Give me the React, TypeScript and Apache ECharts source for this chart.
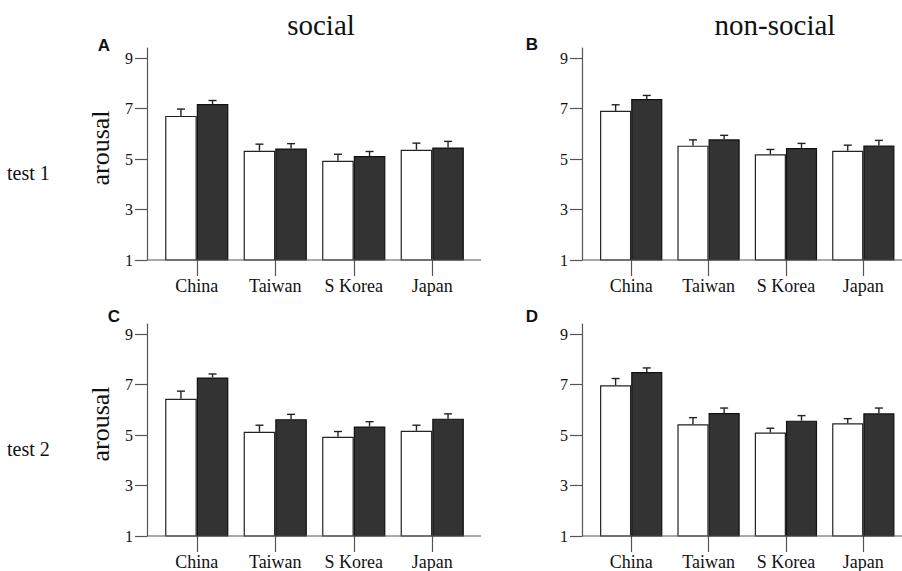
import { useEffect, useRef } from 'react';
import * as echarts from 'echarts';

const categories = ['China', 'Taiwan', 'S Korea', 'Japan'];
const yTickValues = [1, 3, 5, 7, 9];

// Panel A: social, test 1
const aWhite = [6.71, 5.33, 4.93, 5.37];
const aWhiteErr = [0.27, 0.26, 0.26, 0.26];
const aDark = [7.18, 5.42, 5.12, 5.46];
const aDarkErr = [0.14, 0.19, 0.18, 0.24];
// Panel B: non-social, test 1
const bWhite = [6.91, 5.53, 5.19, 5.33];
const bWhiteErr = [0.24, 0.23, 0.19, 0.22];
const bDark = [7.38, 5.78, 5.44, 5.54];
const bDarkErr = [0.14, 0.16, 0.18, 0.2];
// Panel C: social, test 2
const cWhite = [6.44, 5.13, 4.93, 5.17];
const cWhiteErr = [0.3, 0.26, 0.21, 0.22];
const cDark = [7.28, 5.63, 5.34, 5.65];
const cDarkErr = [0.14, 0.19, 0.19, 0.19];
// Panel D: non-social, test 2
const dWhite = [6.97, 5.43, 5.1, 5.47];
const dWhiteErr = [0.27, 0.26, 0.17, 0.18];
const dDark = [7.5, 5.87, 5.57, 5.86];
const dDarkErr = [0.16, 0.2, 0.2, 0.21];

const GAP = 0.195;
const SERIF = '"Liberation Serif", "Times New Roman", serif';
const AXIS_COLOR = '#555';

export default function App() {
  const ref = useRef<HTMLDivElement>(null);
  useEffect(() => {
    const chart = echarts.init(ref.current!, null, { renderer: 'svg' });
    const panels = [
      { white: aWhite, whiteErr: aWhiteErr, dark: aDark, darkErr: aDarkErr, left: 157.5, top: 48, axisEnd: 481 },
      { white: bWhite, whiteErr: bWhiteErr, dark: bDark, darkErr: bDarkErr, left: 592.5, top: 48, axisEnd: 916 },
      { white: cWhite, whiteErr: cWhiteErr, dark: cDark, darkErr: cDarkErr, left: 157.5, top: 324, axisEnd: 481 },
      { white: dWhite, whiteErr: dWhiteErr, dark: dDark, darkErr: dDarkErr, left: 592.5, top: 324, axisEnd: 916 },
    ];
    const gridW = 314;
    const gridH = 212;
    const yOffset = 10.5;

    const grids: any[] = [];
    const xAxes: any[] = [];
    const yAxes: any[] = [];
    const series: any[] = [];
    const graphics: any[] = [];

    const errRender = (side: number) => (params: any, api: any) => {
      const idx = api.value(0);
      const m = api.value(1);
      const e = api.value(2);
      const base = api.coord([idx, m]);
      const top = api.coord([idx, m + e]);
      const band = api.size([1, 0])[0];
      const bw = (band * (1 - GAP)) / 2;
      const x = base[0] + (side * bw) / 2;
      const cap = 4;
      const style = { stroke: '#222', lineWidth: 1.4 };
      return {
        type: 'group',
        children: [
          { type: 'line', shape: { x1: x, y1: base[1], x2: x, y2: top[1] }, style },
          { type: 'line', shape: { x1: x - cap, y1: top[1], x2: x + cap, y2: top[1] }, style },
        ],
      };
    };

    panels.forEach((p, i) => {
      grids.push({ left: p.left, top: p.top, width: gridW, height: gridH, containLabel: false });
      xAxes.push({
        type: 'category',
        gridIndex: i,
        data: categories,
        boundaryGap: true,
        axisLine: { show: false },
        axisTick: { show: true, alignWithLabel: true, length: 16, lineStyle: { color: AXIS_COLOR, width: 1.2 } },
        axisLabel: { margin: 17, color: '#111', fontFamily: SERIF, fontSize: 18, interval: 0 },
        splitLine: { show: false },
      });
      yAxes.push({
        type: 'value',
        gridIndex: i,
        min: 1,
        max: 9.4,
        offset: yOffset,
        axisLine: { show: true, lineStyle: { color: AXIS_COLOR, width: 1.2 } },
        axisTick: { show: true, length: 12, customValues: yTickValues, lineStyle: { color: AXIS_COLOR, width: 1.2 } },
        axisLabel: { margin: 14, customValues: yTickValues, color: '#111', fontFamily: SERIF, fontSize: 16 },
        splitLine: { show: false },
      });
      series.push({
        type: 'bar',
        xAxisIndex: i,
        yAxisIndex: i,
        data: p.white.map((v) => v),
        barGap: '0%',
        barCategoryGap: GAP * 100 + '%',
        itemStyle: { color: '#ffffff', borderColor: '#222', borderWidth: 1.2 },
        silent: true,
      });
      series.push({
        type: 'bar',
        xAxisIndex: i,
        yAxisIndex: i,
        data: p.dark.map((v) => v),
        barGap: '0%',
        barCategoryGap: GAP * 100 + '%',
        itemStyle: { color: '#333333', borderColor: '#111', borderWidth: 1.2 },
        silent: true,
      });
      series.push({
        type: 'custom',
        xAxisIndex: i,
        yAxisIndex: i,
        data: p.white.map((v, k) => [k, v, p.whiteErr[k]]),
        renderItem: errRender(-1),
        z: 5,
        silent: true,
      });
      series.push({
        type: 'custom',
        xAxisIndex: i,
        yAxisIndex: i,
        data: p.dark.map((v, k) => [k, v, p.darkErr[k]]),
        renderItem: errRender(1),
        z: 5,
        silent: true,
      });
      const axisX = p.left - yOffset;
      const axisY = p.top + gridH;
      graphics.push({
        type: 'line',
        shape: { x1: axisX, y1: axisY, x2: p.axisEnd, y2: axisY },
        style: { stroke: AXIS_COLOR, lineWidth: 1.2 },
        z: 10,
      });
    });

    const textStyle = (font: string, extra: any = {}) => ({ fill: '#111', font, ...extra });

    graphics.push(
      { type: 'text', x: 321, y: 25, style: textStyle(`29px ${SERIF}`, { text: 'social', align: 'center', verticalAlign: 'middle' }) },
      { type: 'text', x: 775, y: 25, style: textStyle(`29px ${SERIF}`, { text: 'non-social', align: 'center', verticalAlign: 'middle' }) },
      { type: 'text', x: 104, y: 45, style: textStyle('bold 17px "Liberation Sans", Arial, sans-serif', { text: 'A', align: 'center', verticalAlign: 'middle' }) },
      { type: 'text', x: 532, y: 44, style: textStyle('bold 17px "Liberation Sans", Arial, sans-serif', { text: 'B', align: 'center', verticalAlign: 'middle' }) },
      { type: 'text', x: 114, y: 316, style: textStyle('bold 17px "Liberation Sans", Arial, sans-serif', { text: 'C', align: 'center', verticalAlign: 'middle' }) },
      { type: 'text', x: 532, y: 316, style: textStyle('bold 17px "Liberation Sans", Arial, sans-serif', { text: 'D', align: 'center', verticalAlign: 'middle' }) },
      { type: 'text', x: 7, y: 173, style: textStyle(`20px ${SERIF}`, { text: 'test 1', align: 'left', verticalAlign: 'middle' }) },
      { type: 'text', x: 7, y: 449, style: textStyle(`20px ${SERIF}`, { text: 'test 2', align: 'left', verticalAlign: 'middle' }) },
      { type: 'text', x: 100, y: 148, rotation: Math.PI / 2, style: textStyle(`26px ${SERIF}`, { text: 'arousal', align: 'center', verticalAlign: 'middle' }) },
      { type: 'text', x: 100, y: 424, rotation: Math.PI / 2, style: textStyle(`26px ${SERIF}`, { text: 'arousal', align: 'center', verticalAlign: 'middle' }) },
    );

    chart.setOption({
      animation: false,
      backgroundColor: '#ffffff',
      grid: grids,
      xAxis: xAxes,
      yAxis: yAxes,
      series,
      graphic: graphics,
    });
    return () => chart.dispose();
  }, []);
  return <div ref={ref} style={{ position: 'absolute', left: 0, top: 0, width: 902, height: 571 }} />;
}
